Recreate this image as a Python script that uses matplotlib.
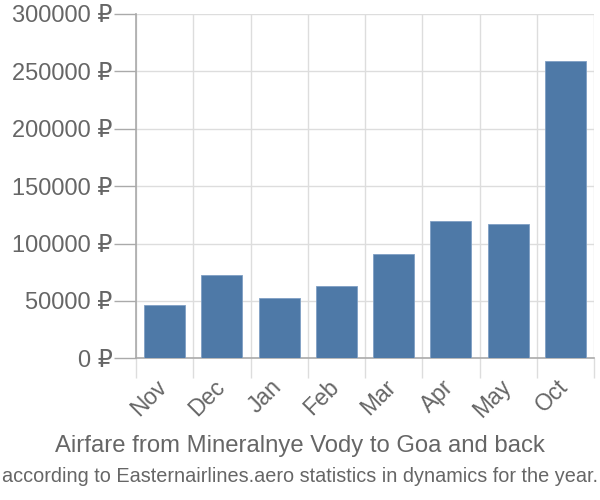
import matplotlib
matplotlib.use("Agg")
import matplotlib.pyplot as plt
from matplotlib.ticker import FuncFormatter, MultipleLocator
import matplotlib.transforms as mtransforms
import numpy as np

months = ["Nov", "Dec", "Jan", "Feb", "Mar", "Apr", "May", "Oct"]
prices = [46200, 72400, 52300, 62800, 90700, 119500, 117100, 259000]
title = "Airfare from Mineralnye Vody to Goa and back"
subtitle = "according to Easternairlines.aero statistics in dynamics for the year."

plt.rcParams['font.family'] = ['Liberation Sans', 'DejaVu Sans']
gray = "#666666"

fig = plt.figure(figsize=(6, 5), dpi=100)
ax = fig.add_axes([136/600, 1 - 358.3/500, (594-136)/600, 344.3/500])

x = np.arange(len(months))
ax.bar(x, prices, width=0.72, color="#4e79a7", edgecolor="#7f9fc4", linewidth=0.6, zorder=3)

ax.set_xlim(-0.5, len(months) - 0.5)
ax.set_ylim(0, 300000)
ax.yaxis.set_major_locator(MultipleLocator(50000))
ax.yaxis.set_major_formatter(FuncFormatter(lambda v, p: f"{int(v)} ₽"))

ax.set_xticks(x)
ax.set_xticklabels([])
ax.set_xticks(np.arange(-0.5, len(months)), minor=True)
ax.tick_params(axis="x", which="major", length=0)
ax.tick_params(axis="x", which="minor", length=14.4, color="#dddddd", width=1)
ax.tick_params(axis="y", length=15.8, color="#aaaaaa", width=1, pad=1, labelsize=17, labelcolor=gray)

# month labels, anchored under each category with a fixed pixel offset
offset = mtransforms.ScaledTranslation(-9/100, -17/100, fig.dpi_scale_trans)
trans = ax.get_xaxis_transform() + offset
for xi, m in zip(x, months):
    ax.text(xi, 0, m, transform=trans, rotation=45, ha="right", va="top",
            rotation_mode="anchor", fontsize=16.5, color=gray)

ax.grid(True, which="minor", axis="x", color="#dddddd", linewidth=1, zorder=0)
ax.grid(True, which="major", axis="y", color="#dddddd", linewidth=1, zorder=0)

for s in ["top", "right"]:
    ax.spines[s].set_visible(False)
ax.spines["left"].set_color("#aaaaaa")
ax.spines["bottom"].set_color("#aaaaaa")
ax.spines["left"].set_linewidth(1.2)
ax.spines["bottom"].set_linewidth(1.2)

fig.text(0.5, 1 - 446/500, title, ha="center", va="center", fontsize=17.2, color=gray)
fig.text(0.5, 1 - 476/500, subtitle, ha="center", va="center", fontsize=14.3, color=gray)

fig.savefig("out.png", dpi=100)
